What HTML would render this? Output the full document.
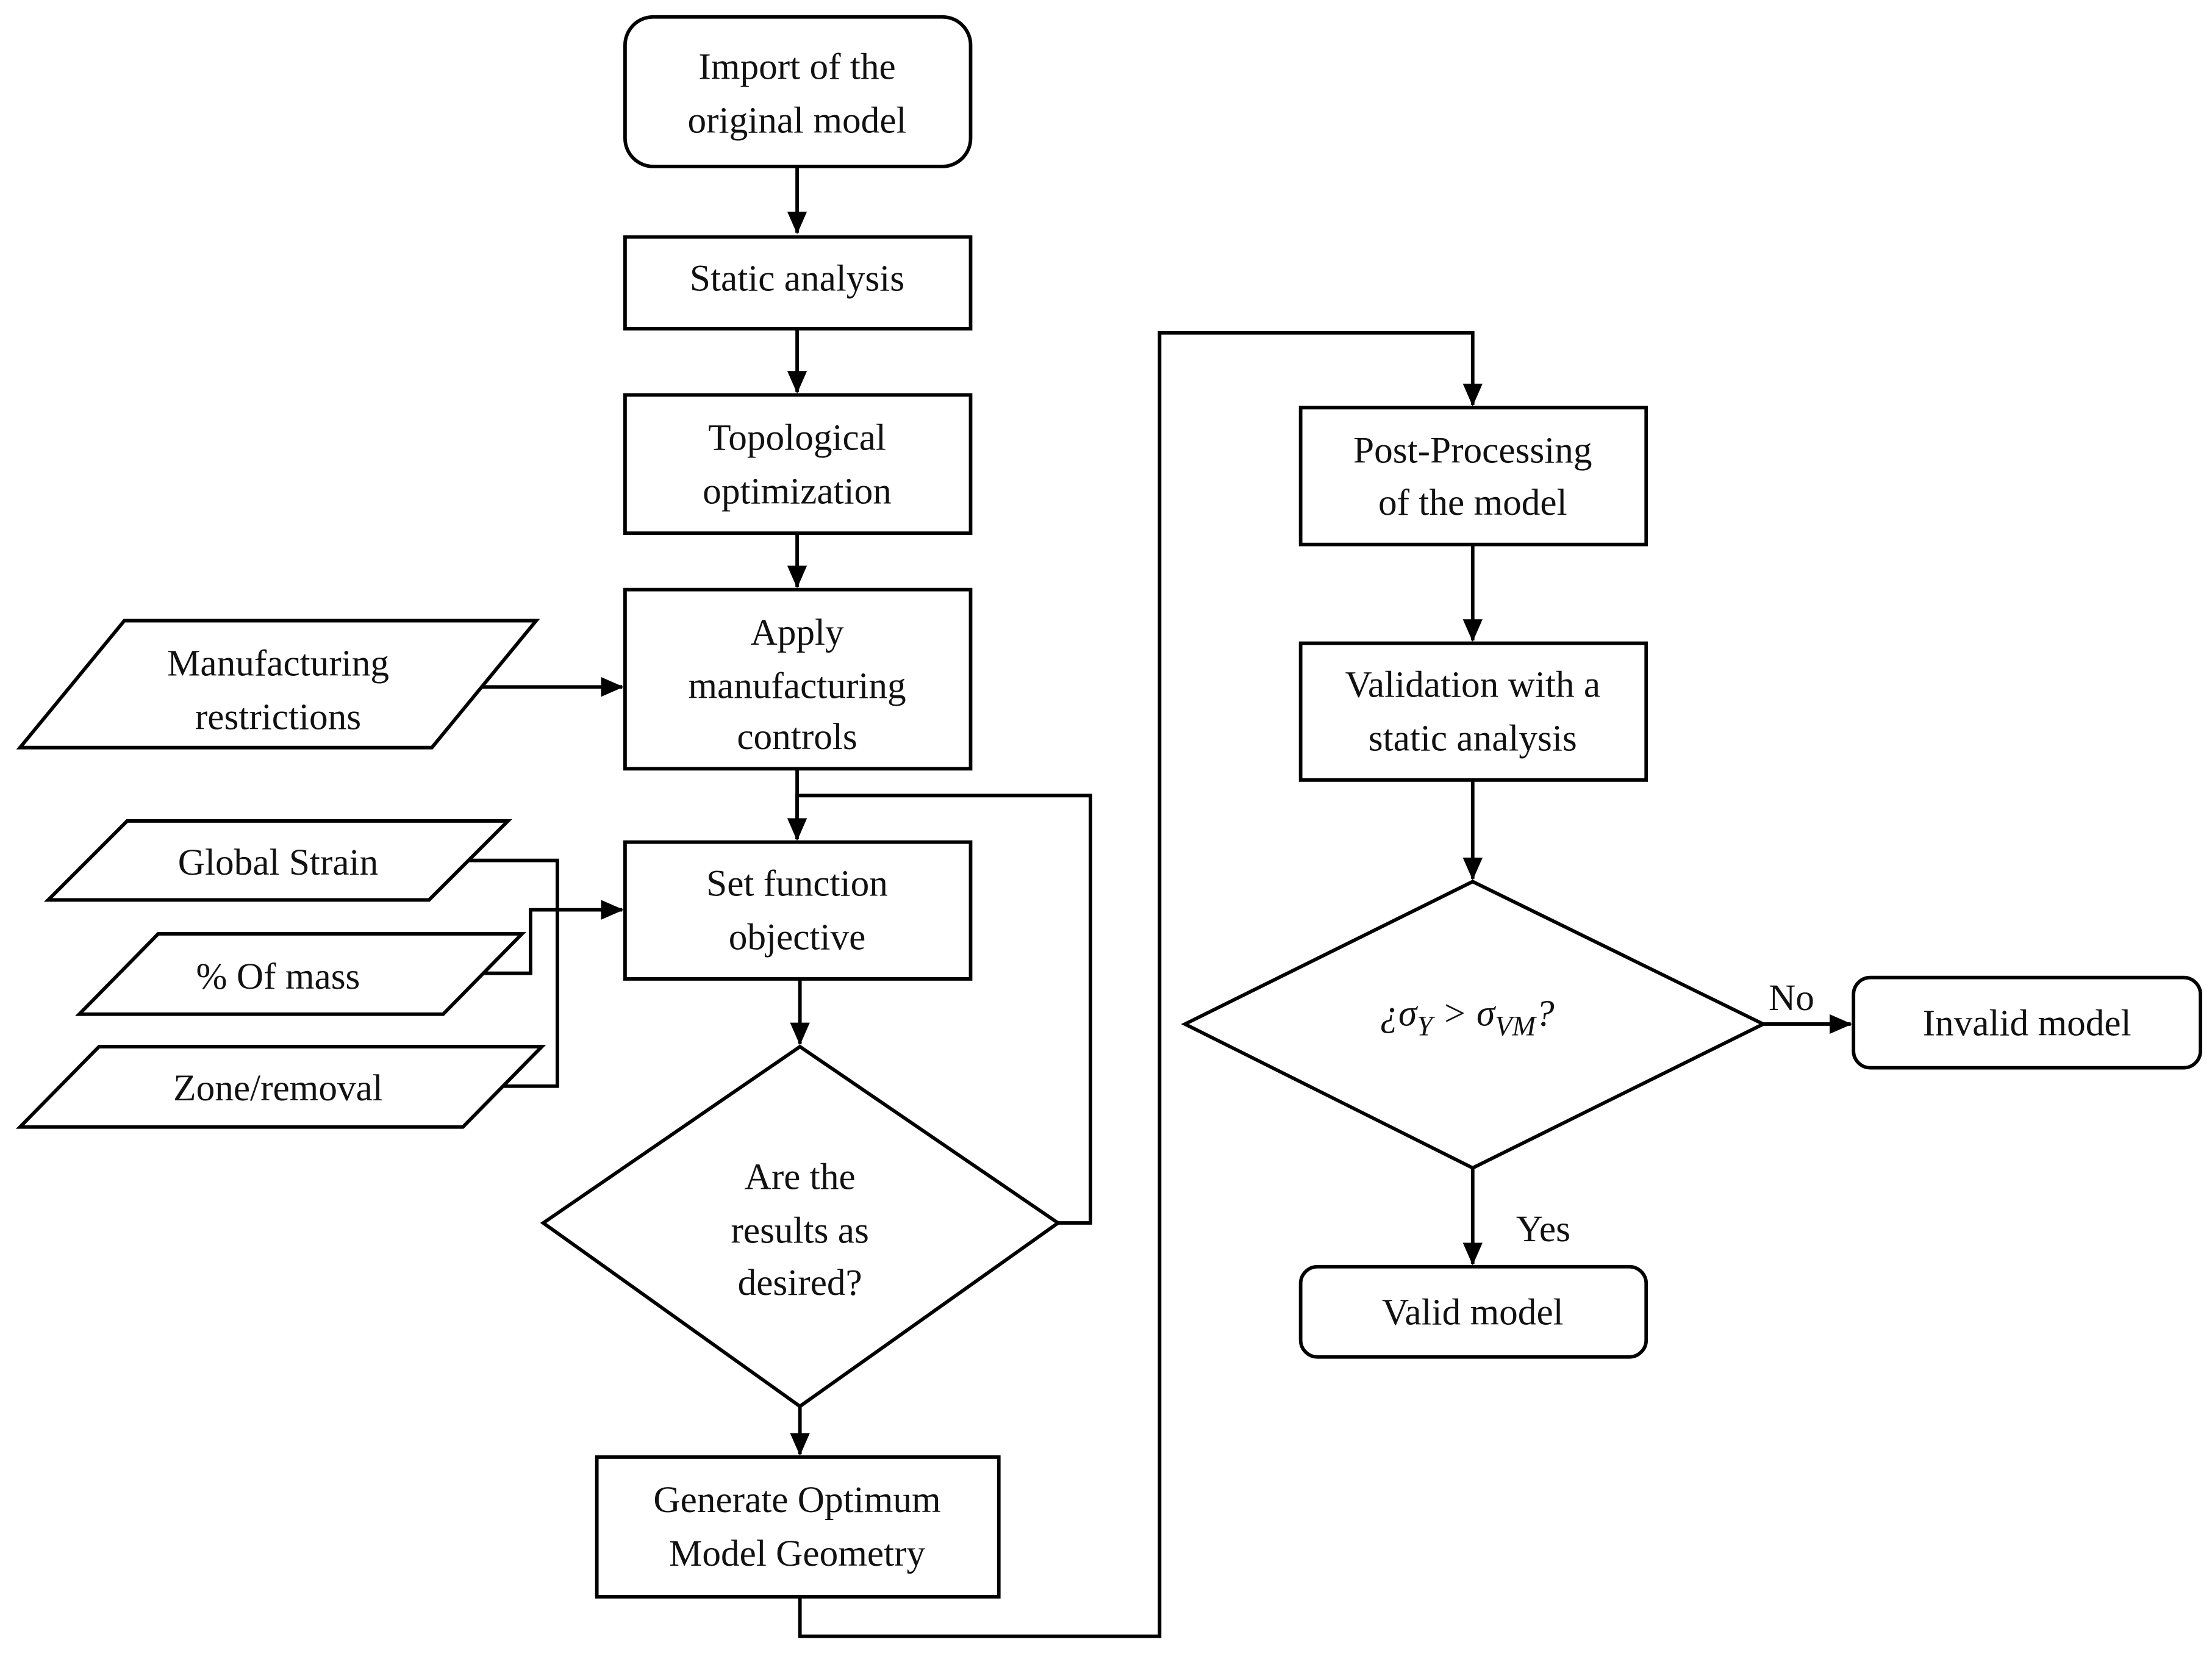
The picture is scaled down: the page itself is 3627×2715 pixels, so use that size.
<!DOCTYPE html>
<html><head><meta charset="utf-8"><style>
html,body{margin:0;padding:0;background:#fff;}
svg{display:block;}
text{font-family:"Liberation Serif",serif;font-size:26.5px;fill:#111;text-anchor:middle;}
</style></head><body>
<svg width="3627" height="2715" viewBox="0 0 1568 1174" xmlns="http://www.w3.org/2000/svg">
<defs><marker id="b" markerWidth="16" markerHeight="14" refX="15" refY="7" orient="auto" markerUnits="userSpaceOnUse"><path d="M0,0 L16,7 L0,14 z" fill="#000"/></marker></defs>
<g fill="none" stroke="#000" stroke-width="2.5">
<rect x="443" y="12" width="245" height="106" rx="20"/>
<rect x="443" y="168" width="245" height="65"/>
<rect x="443" y="280" width="245" height="98"/>
<rect x="443" y="418" width="245" height="127"/>
<rect x="443" y="597" width="245" height="97"/>
<rect x="423" y="1033" width="285" height="99"/>
<rect x="922" y="289" width="245" height="97"/>
<rect x="922" y="456" width="245" height="97"/>
<rect x="1314" y="693" width="246" height="64" rx="12"/>
<rect x="922" y="898" width="245" height="64" rx="12"/>
<polygon points="14,530 88,440 380,440 306,530"/>
<polygon points="34,638 90,582 360,582 304,638"/>
<polygon points="56,719 112,662 370,662 314,719"/>
<polygon points="14,799 70,742 384,742 328,799"/>
<polygon points="567,742 750,867 567,997 385,867"/>
<polygon points="1044,625 1250,726 1044,828 840,726"/>
<path d="M565,118 V165" marker-end="url(#b)"/>
<path d="M565,233 V278" marker-end="url(#b)"/>
<path d="M565,378 V416" marker-end="url(#b)"/>
<path d="M341,487 H441" marker-end="url(#b)"/>
<path d="M565,545 V595" marker-end="url(#b)"/>
<path d="M750,867 H773 V564 H565 V595" marker-end="url(#b)"/>
<path d="M332,610 H395 V770 H356"/>
<path d="M342,690 H376 V645 H441" marker-end="url(#b)"/>
<path d="M567,694 V740" marker-end="url(#b)"/>
<path d="M567,997 V1031" marker-end="url(#b)"/>
<path d="M567,1132 V1160 H822 V236 H1044 V287" marker-end="url(#b)"/>
<path d="M1044,386 V454" marker-end="url(#b)"/>
<path d="M1044,553 V623" marker-end="url(#b)"/>
<path d="M1250,726 H1312" marker-end="url(#b)"/>
<path d="M1044,828 V896" marker-end="url(#b)"/>
</g>
<text x="565" y="56">Import of the</text>
<text x="565" y="94">original model</text>
<text x="565" y="206">Static analysis</text>
<text x="565" y="319">Topological</text>
<text x="565" y="357">optimization</text>
<text x="565" y="457">Apply</text>
<text x="565" y="495">manufacturing</text>
<text x="565" y="531">controls</text>
<text x="197" y="479">Manufacturing</text>
<text x="197" y="517">restrictions</text>
<text x="565" y="635">Set function</text>
<text x="565" y="673">objective</text>
<text x="197" y="620">Global Strain</text>
<text x="197" y="701">% Of mass</text>
<text x="197" y="780">Zone/removal</text>
<text x="567" y="843">Are the</text>
<text x="567" y="881">results as</text>
<text x="567" y="918">desired?</text>
<text x="565" y="1072">Generate Optimum</text>
<text x="565" y="1110">Model Geometry</text>
<text x="1044" y="328">Post-Processing</text>
<text x="1044" y="365">of the model</text>
<text x="1044" y="494">Validation with a</text>
<text x="1044" y="532">static analysis</text>
<text x="1040" y="727" font-style="italic" font-size="30">¿σ<tspan font-size="20" dy="7">Y</tspan><tspan dy="-7"> &gt; σ</tspan><tspan font-size="20" dy="7">VM</tspan><tspan dy="-7">?</tspan></text>
<text x="1270" y="716">No</text>
<text x="1437" y="734">Invalid model</text>
<text x="1094" y="880">Yes</text>
<text x="1044" y="939">Valid model</text>
</svg>
</body></html>
